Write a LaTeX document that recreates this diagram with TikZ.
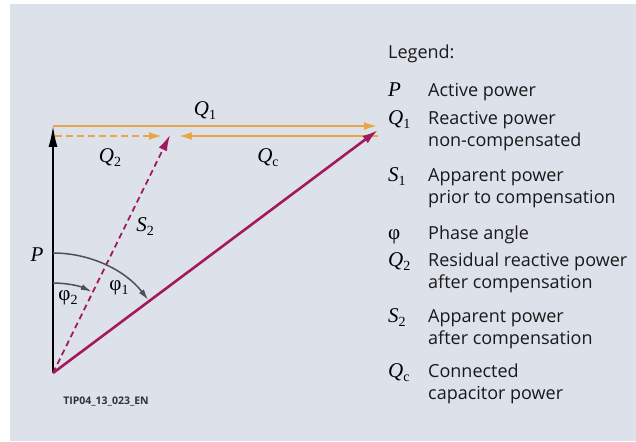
\documentclass[tikz,border=0pt]{standalone}
\usepackage{fontspec}
\setmainfont{Open Sans}
\newfontfamily\symfont{Liberation Serif}
\usetikzlibrary{arrows.meta}

\definecolor{bgblue}{RGB}{221,226,234}
\definecolor{qorange}{RGB}{234,166,70}
\definecolor{smagenta}{RGB}{164,25,94}
\definecolor{arcgray}{RGB}{80,80,80}

\newcommand{\vsym}[2]{{\symfont\itshape #1}\raisebox{-0.35ex}{\symfont\fontsize{14}{14}\selectfont #2}}
\newcommand{\vphi}[1]{{\symfont φ}\raisebox{-0.35ex}{\symfont\fontsize{14}{14}\selectfont #1}}

\begin{document}
\begin{tikzpicture}[
    x=1pt, y=1pt,
    every node/.style={inner sep=0pt, font=\fontsize{16}{16}\selectfont},
    lbl/.style={font=\fontsize{21}{21}\selectfont},
    legsym/.style={anchor=base west, font=\fontsize{21}{21}\selectfont},
    legtxt/.style={anchor=base west, font=\fontsize{18}{18}\selectfont, text=black!90},
    pvec/.style={-{Latex[length=22pt, width=9pt]}, line width=2.4pt, black},
    qvec/.style={-{Latex[length=14pt, width=8pt]}, line width=2.6pt, qorange},
    qdash/.style={qvec, dashed, dash pattern=on 7pt off 4pt},
    svec/.style={-{Latex[length=16pt, width=9pt]}, line width=2.6pt, smagenta},
    sdash/.style={svec, line width=1.8pt, dash pattern=on 6pt off 4pt},
    angarc/.style={-{Latex[length=11pt, width=6pt]}, line width=1.5pt, arcgray}]

  % frame
  \useasboundingbox (0,0) rectangle (636,441);
  \fill[bgblue] (10,0) rectangle (636,437);

  % vectors
  \coordinate (O)     at (53,68);
  \coordinate (Ptop)  at (53,316);
  \coordinate (Q1a)   at (53,315);
  \coordinate (Q1b)   at (378,315);
  \coordinate (Q2a)   at (55,305);
  \coordinate (Q2b)   at (163,305);
  \coordinate (Qca)   at (378,305);
  \coordinate (Qcb)   at (178,305);
  \coordinate (S1tip) at (378,311);
  \coordinate (S2tip) at (170,306);

  \draw[qvec]  (Q1a) -- (Q1b);
  \draw[qdash] (Q2a) -- (Q2b);
  \draw[qvec]  (Qca) -- (Qcb);
  \draw[pvec]  (O) -- (Ptop);
  \draw[sdash] (O) -- (S2tip);
  \draw[svec]  (O) -- (S1tip);

  % angles
  \draw[angarc] (53,188) arc[start angle=90, end angle=37.5, radius=120];
  \draw[angarc] (53,158) arc[start angle=90, end angle=64.5, radius=90];

  % labels
  \node[lbl] (lQ1)   at (205,330) {\vsym{Q}{1}};
  \node[lbl] (lQ2)   at (110,283) {\vsym{Q}{2}};
  \node[lbl] (lQc)   at (268,283) {\vsym{Q}{c}};
  \node[lbl] (lS2)   at (145,214) {\vsym{S}{2}};
  \node[lbl] (lP)    at (37,184)  {\vsym{P}{}};
  \node[lbl] (lphi1) at (119,153) {\vphi{1}};
  \node[lbl] (lphi2) at (68,143)  {\vphi{2}};
  \node[font=\fontsize{10.5}{10.5}\selectfont\bfseries, text=black!80] (tag) at (106,39) {TIP04\_13\_023\_EN};

  % legend
  \node[legtxt] (legHead) at (388,382) {Legend:};
  \node[legsym] (symP)   at (388,344) {\vsym{P}{}};
  \node[legtxt] (txtP)   at (428,344) {Active power};
  \node[legsym] (symQ1)  at (388,316) {\vsym{Q}{1}};
  \node[legtxt] (txtQ1a) at (428,316) {Reactive power};
  \node[legtxt] (txtQ1b) at (428,294) {non-compensated};
  \node[legsym] (symS1)  at (388,259) {\vsym{S}{1}};
  \node[legtxt] (txtS1a) at (428,259) {Apparent power};
  \node[legtxt] (txtS1b) at (428,237) {prior to compensation};
  \node[legsym] (symphi) at (388,201) {{\symfont φ}};
  \node[legtxt] (txtphi) at (428,201) {Phase angle};
  \node[legsym] (symQ2)  at (388,174) {\vsym{Q}{2}};
  \node[legtxt] (txtQ2a) at (428,174) {Residual reactive power};
  \node[legtxt] (txtQ2b) at (428,152) {after compensation};
  \node[legsym] (symS2)  at (388,118) {\vsym{S}{2}};
  \node[legtxt] (txtS2a) at (428,118) {Apparent power};
  \node[legtxt] (txtS2b) at (428,96)  {after compensation};
  \node[legsym] (symQc)  at (388,63)  {\vsym{Q}{c}};
  \node[legtxt] (txtQca) at (428,63)  {Connected};
  \node[legtxt] (txtQcb) at (428,41)  {capacitor power};
\end{tikzpicture}
\end{document}
